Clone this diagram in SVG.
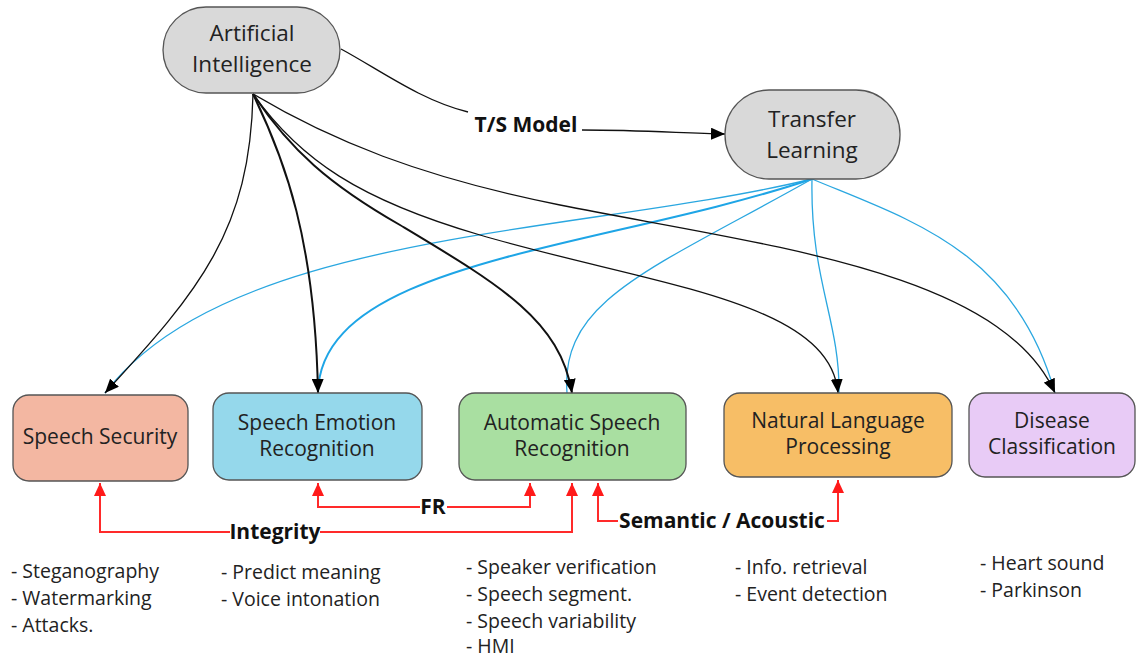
<svg xmlns="http://www.w3.org/2000/svg" width="1136" height="657" viewBox="0 0 1136 657">
<defs>
<style>
.nt{font-family:"Open Sans","Noto Sans","Liberation Sans",sans-serif;font-size:21px;fill:#222;text-anchor:middle}
.big{font-size:22.5px}
.lb{font-family:"Open Sans","Noto Sans","Liberation Sans",sans-serif;font-size:21px;font-weight:bold;fill:#111;text-anchor:middle}
.li{font-family:"Open Sans","Noto Sans","Liberation Sans",sans-serif;font-size:19.5px;fill:#222}
.box{stroke:#555;stroke-width:1.3}
.k{fill:none;stroke:#111;stroke-width:1.3}
.kt{fill:none;stroke:#111;stroke-width:2}
.b{fill:none;stroke:#2aa7e0;stroke-width:1.3}
.bt{fill:none;stroke:#1ea5e6;stroke-width:2}
.r{fill:none;stroke:#ff2a2a;stroke-width:2}
</style>
<marker id="ak" viewBox="0 0 14 12" refX="14" refY="6" markerWidth="14" markerHeight="12" orient="auto" markerUnits="userSpaceOnUse"><path d="M0,0 L14,6 L0,12 z" fill="#000"/></marker>
<marker id="ar" viewBox="0 0 13 12" refX="13" refY="6" markerWidth="13" markerHeight="12" orient="auto" markerUnits="userSpaceOnUse"><path d="M0,0 L13,6 L0,12 z" fill="#ff1a1a"/></marker>
</defs>
<rect width="1136" height="657" fill="#fff"/>
<g id="connectors">
<!-- blue from Transfer Learning -->
<path class="b" d="M812,179 C580,235 230,230 105,393"/>
<path class="bt" d="M812,179 C600,250 320,260 318,393"/>
<path class="b" d="M812,179 C650,270 560,300 567,393"/>
<path class="b" d="M812,179 C810,280 840,320 839,393"/>
<path class="b" d="M812,179 C910,220 1015,250 1055,393"/>
<!-- black from AI -->
<path class="k" d="M253,94 C250,230 200,290 105,393" marker-end="url(#ak)"/>
<path class="kt" d="M253,94 C285,160 315,240 318,393" marker-end="url(#ak)"/>
<path class="kt" d="M253,94 C290,150 330,185 400,225 C500,285 560,320 572,393" marker-end="url(#ak)"/>
<path class="k" d="M253,94 C300,160 360,200 480,235 C650,285 830,300 838,393" marker-end="url(#ak)"/>
<path class="k" d="M253,94 C330,140 420,177 560,205 C760,245 1000,270 1055,393" marker-end="url(#ak)"/>
<!-- T/S Model -->
<path class="k" d="M341,49 C380,70 420,100 468,112"/>
<path class="k" d="M582,130 C640,130 680,133 725,134" marker-end="url(#ak)"/>
<text class="lb" x="526" y="132">T/S Model</text>
<!-- red -->
<path class="r" d="M230,532 H100 V483" marker-end="url(#ar)"/>
<path class="r" d="M320,532 H572 V483" marker-end="url(#ar)"/>
<text class="lb" x="275" y="539">Integrity</text>
<path class="r" d="M420,507 H318 V483" marker-end="url(#ar)"/>
<path class="r" d="M447,507 H530 V483" marker-end="url(#ar)"/>
<text class="lb" x="433" y="514">FR</text>
<path class="r" d="M618,521 H598 V483" marker-end="url(#ar)"/>
<path class="r" d="M827,521 H838 V480" marker-end="url(#ar)"/>
<text class="lb" x="722" y="528">Semantic / Acoustic</text>
</g>
<g id="ai">
<rect class="box" x="163" y="7" width="177" height="86" rx="43" fill="#d9d9d9"/>
<text class="nt big" x="252" y="41">Artificial</text>
<text class="nt big" x="252" y="72">Intelligence</text>
</g>
<g id="tl">
<rect class="box" x="725" y="90" width="175" height="89" rx="44" fill="#d9d9d9"/>
<text class="nt big" x="812" y="127">Transfer</text>
<text class="nt big" x="812" y="158">Learning</text>
</g>
<g id="ss">
<rect class="box" x="13" y="395" width="175" height="86" rx="16" fill="#f3b7a2"/>
<text class="nt" x="100" y="444">Speech Security</text>
</g>
<g id="ser">
<rect class="box" x="213" y="393" width="209" height="87" rx="16" fill="#95d8eb"/>
<text class="nt" x="317" y="430">Speech Emotion</text>
<text class="nt" x="317" y="456">Recognition</text>
</g>
<g id="asr">
<rect class="box" x="459" y="393" width="227" height="87" rx="16" fill="#a9dfa1"/>
<text class="nt" x="572" y="430">Automatic Speech</text>
<text class="nt" x="572" y="456">Recognition</text>
</g>
<g id="nlp">
<rect class="box" x="724" y="393" width="228" height="84" rx="16" fill="#f7be66"/>
<text class="nt" x="838" y="428">Natural Language</text>
<text class="nt" x="838" y="454">Processing</text>
</g>
<g id="dc">
<rect class="box" x="969" y="393" width="166" height="84" rx="16" fill="#e8cbf6"/>
<text class="nt" x="1052" y="428">Disease</text>
<text class="nt" x="1052" y="454">Classification</text>
</g>
<g id="lists">
<text class="li" x="11" y="578">- Steganography</text>
<text class="li" x="11" y="605">- Watermarking</text>
<text class="li" x="11" y="632">- Attacks.</text>
<text class="li" x="221" y="579">- Predict meaning</text>
<text class="li" x="221" y="606">- Voice intonation</text>
<text class="li" x="466" y="574">- Speaker verification</text>
<text class="li" x="466" y="601">- Speech segment.</text>
<text class="li" x="466" y="628">- Speech variability</text>
<text class="li" x="466" y="653">- HMI</text>
<text class="li" x="735" y="574">- Info. retrieval</text>
<text class="li" x="735" y="601">- Event detection</text>
<text class="li" x="980" y="570">- Heart sound</text>
<text class="li" x="980" y="597">- Parkinson</text>
</g>
</svg>
